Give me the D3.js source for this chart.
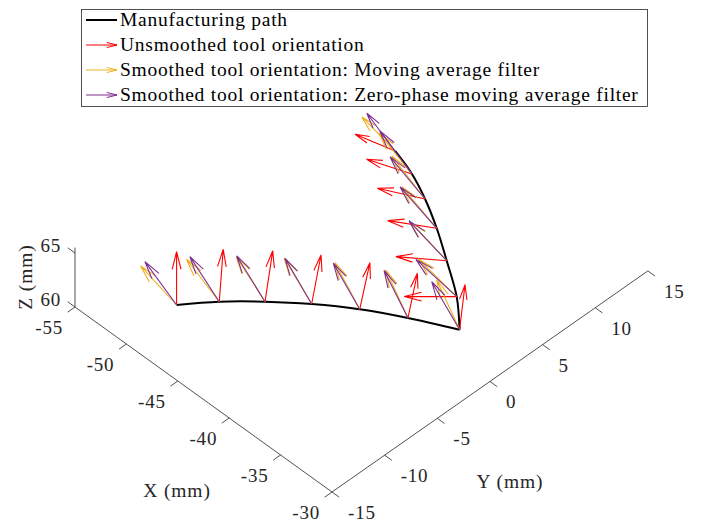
<!DOCTYPE html>
<html><head><meta charset="utf-8">
<script src="https://cdn.jsdelivr.net/npm/d3@7"></script>
<style>
body{margin:0;background:#fff;}
</style></head><body>
<svg id="c" width="708" height="523"></svg>
<script>
// ---------- data ----------
const xTicks = [-55, -50, -45, -40, -35, -30];
const yTicks = [-15, -10, -5, 0, 5, 10, 15];
const zTicks = [60, 65];
const axisLabels = ["X (mm)", "Y (mm)", "Z (mm)"];
const seriesNames = ["Manufacturing path", "Unsmoothed tool orientation",
  "Smoothed tool orientation: Moving average filter",
  "Smoothed tool orientation: Zero-phase moving average filter"];
const seriesColors = ["#000000", "#FF0000", "#EDB120", "#7E2F8E"];

// manufacturing path points (mm)
const pathX = [-48.60, -46.55, -44.35, -42.11, -39.80, -37.48, -35.00, -35.14, -35.62, -36.10, -36.66, -37.29, -38.10];
const pathY = [-11.60, -9.55, -7.35, -5.11, -2.80, -0.48, 2.00, 1.86, 1.38, 0.90, 0.34, -0.29, -1.10];
const pathZ = [62.25, 62.56, 62.57, 62.36, 61.88, 61.08, 60.00, 63.06, 66.39, 69.39, 72.10, 74.41, 76.54];
const cornerIndex = 6;

// unsmoothed tool orientation
const redU = [0.00, 0.19, 0.37, 0.45, 0.49, 0.45, 0.26, -2.52, -2.44, -2.35, -2.29, -2.18, -1.92];
const redV = [0.00, 0.19, 0.37, 0.45, 0.49, 0.45, 0.26, -2.52, -2.44, -2.35, -2.29, -2.18, -1.92];
const redW = [4.94, 4.85, 4.72, 4.54, 4.31, 4.14, 4.17, 0.00, 0.37, 0.70, 0.99, 1.36, 1.55];

// moving average filter
const orangeU = [-1.73, -1.57, -1.39, -1.32, -1.19, -1.06, -1.10, -1.85, -1.76, -1.68, -1.60, -1.59, -1.60];
const orangeV = [-1.73, -1.57, -1.39, -1.32, -1.19, -1.06, -1.10, -1.85, -1.76, -1.68, -1.60, -1.59, -1.60];
const orangeW = [3.61, 3.93, 4.17, 4.23, 4.31, 4.44, 4.60, 3.49, 3.58, 3.85, 3.98, 3.80, 3.15];

// zero-phase moving average filter
const purpleU = [-1.52, -1.41, -1.36, -1.28, -1.27, -1.15, -1.34, -1.96, -1.81, -1.76, -1.68, -1.54, -1.36];
const purpleV = [-1.52, -1.41, -1.36, -1.28, -1.27, -1.15, -1.34, -1.96, -1.81, -1.76, -1.68, -1.54, -1.36];
const purpleW = [4.01, 4.17, 4.23, 4.23, 4.26, 4.40, 4.44, 3.44, 3.68, 3.82, 3.89, 3.98, 3.49];

// ---------- projection through scales ----------
const svg = d3.select("#c");
const O = [75, 307];
const xS = {h: d3.scaleLinear().domain([-55, -30]).range([0, 257]), v: d3.scaleLinear().domain([-55, -30]).range([0, 185])};
const yS = {h: d3.scaleLinear().domain([-15, 15]).range([0, 315.9]), v: d3.scaleLinear().domain([-15, 15]).range([0, -221.1])};
const zS = {v: d3.scaleLinear().domain([60, 65]).range([0, -54])};
function P(x, y, z) {
  return [O[0] + xS.h(x) + yS.h(y), O[1] + xS.v(x) + yS.v(y) + zS.v(z)];
}

const FONT = '"Liberation Serif"';
const axisColor = "#262626";
const gA = svg.append("g").attr("stroke", axisColor).attr("stroke-width", 0.8).attr("fill", "none");
function seg(g, a, b) { g.append("line").attr("x1", a[0]).attr("y1", a[1]).attr("x2", b[0]).attr("y2", b[1]); }

// axes lines
seg(gA, P(-55, -15, 60), P(-30, -15, 60));
seg(gA, P(-30, -15, 60), P(-30, 15, 60));
seg(gA, P(-55, -15, 60), P(-55, -15, 65.5));
const tl = 0.7;
xTicks.forEach(v => seg(gA, P(v, -15, 60), P(v, -15 - tl, 60)));
yTicks.forEach(v => seg(gA, P(-30, v, 60), P(-30 + tl, v, 60)));
zTicks.forEach(v => seg(gA, P(-55, -15, v), P(-55 - tl, -15, v)));

const fs = 19;
const txt = (x, y, anchor, size, ls, s) => svg.append("text").attr("x", x).attr("y", y)
  .attr("text-anchor", anchor).attr("font-size", size).attr("letter-spacing", ls)
  .style("font-family", FONT).attr("fill", axisColor).text(s);
xTicks.forEach(v => { const p = P(v, -15, 60); txt(p[0] - 12, p[1] + 27, "end", fs, 0.8, String(v)); });
yTicks.forEach(v => { const p = P(-30, v, 60); txt(p[0] + 16, p[1] + 27, "start", fs, 0.8, String(v)); });
zTicks.forEach(v => { const p = P(-55, -15, v); txt(p[0] - 14, p[1] - 1, "end", fs, 0.8, String(v)); });
txt(177, 497, "middle", 19.5, 0.9, axisLabels[0]);
txt(510, 488, "middle", 19.5, 0.9, axisLabels[1]);
txt(0, 0, "middle", 19.5, 0.9, axisLabels[2]).attr("transform", "translate(32,277) rotate(-90)");

// ---------- path ----------
const pts = pathX.map((x, i) => P(x, pathY[i], pathZ[i]));
const line = d3.line().curve(d3.curveCatmullRom.alpha(0.5));
svg.append("path").attr("d", line(pts.slice(0, cornerIndex + 1))).attr("fill", "none").attr("stroke", seriesColors[0]).attr("stroke-width", 2);
svg.append("path").attr("d", line(pts.slice(cornerIndex))).attr("fill", "none").attr("stroke", seriesColors[0]).attr("stroke-width", 2);

// ---------- arrows ----------
const alpha = 0.33, beta = 0.25;
function arrowPath(b, t) {
  const u = t[0] - b[0], v = t[1] - b[1];
  const h1 = [t[0] - alpha * (u + beta * v), t[1] - alpha * (v - beta * u)];
  const h2 = [t[0] - alpha * (u - beta * v), t[1] - alpha * (v + beta * u)];
  return `M${b[0]},${b[1]}L${t[0]},${t[1]}M${h1[0]},${h1[1]}L${t[0]},${t[1]}L${h2[0]},${h2[1]}`;
}
function quiver(U, V, W, color) {
  const g = svg.append("g").attr("stroke", color).attr("stroke-width", 1.1).attr("fill", "none");
  pathX.forEach((x, i) => {
    const b = P(x, pathY[i], pathZ[i]);
    const t = P(x + U[i], pathY[i] + V[i], pathZ[i] + W[i]);
    g.append("path").attr("d", arrowPath(b, t));
  });
}
quiver(redU, redV, redW, seriesColors[1]);
quiver(orangeU, orangeV, orangeW, seriesColors[2]);
quiver(purpleU, purpleV, purpleW, seriesColors[3]);

// ---------- legend ----------
const lg = svg.append("g");
lg.append("rect").attr("x", 81.5).attr("y", 9.5).attr("width", 566).attr("height", 97)
  .attr("fill", "#fff").attr("stroke", axisColor).attr("stroke-width", 0.8);
const rowY = [20, 45, 70, 95];
seriesNames.forEach((name, i) => {
  const y = rowY[i];
  if (i === 0) {
    lg.append("line").attr("x1", 86).attr("x2", 117).attr("y1", y).attr("y2", y).attr("stroke", seriesColors[0]).attr("stroke-width", 2);
  } else {
    lg.append("path").attr("d", arrowPath([86, y], [117, y])).attr("stroke", seriesColors[i]).attr("stroke-width", 1).attr("fill", "none");
  }
  lg.append("text").attr("x", 120).attr("y", y + 6).attr("font-size", 19.5).attr("letter-spacing", 0.75)
    .style("font-family", FONT).attr("fill", "#000").text(name);
});
</script></body></html>
